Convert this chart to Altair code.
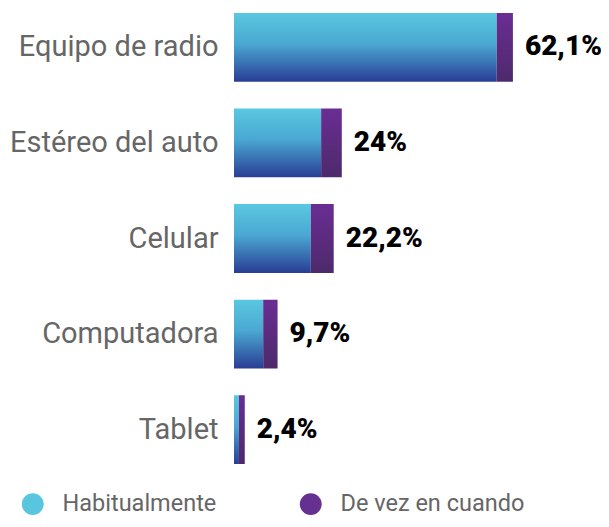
import altair as alt
import pandas as pd

categories = ["Equipo de radio", "Estéreo del auto", "Celular", "Computadora", "Tablet"]
habitual = [58.5, 19.4, 17.1, 6.5, 1.1]
ocasional = [3.6, 4.6, 5.1, 3.2, 1.3]
total_labels = ["62,1%", "24%", "22,2%", "9,7%", "2,4%"]
series = ["Habitualmente", "De vez en cuando"]
series_colors = ["#59c6df", "#65308f"]

df = pd.DataFrame({
    "cat": categories,
    "hab": habitual,
    "oca": ocasional,
    "label": total_labels,
})
df["total"] = df["hab"] + df["oca"]

leg = pd.DataFrame({"serie": series, "cat": [categories[0]] * 2, "v": [0, 0]})

y = alt.Y("cat:N", sort=categories, title=None,
          scale=alt.Scale(paddingInner=0.28, paddingOuter=0.052),
          axis=alt.Axis(domain=False, ticks=False, labelPadding=16, labelLimit=400,
                        labelFont="Roboto", labelFontSize=29, labelColor="#666666",
                        labelFontWeight=400))
xs = alt.Scale(domain=[0, 75.7])

grad_c = alt.Gradient(gradient="linear", x1=0, x2=0, y1=0, y2=1,
                      stops=[alt.GradientStop(offset=0, color="#5ac8e0"),
                             alt.GradientStop(offset=0.45, color="#4aa8d2"),
                             alt.GradientStop(offset=1, color="#293d94")])
grad_p = alt.Gradient(gradient="linear", x1=0, x2=0, y1=0, y2=1,
                      stops=[alt.GradientStop(offset=0, color="#6a2d93"),
                             alt.GradientStop(offset=1, color="#4d2a6b")])

base = alt.Chart(df)
bar_h = base.mark_bar(fill=grad_c).encode(
    y=y, x=alt.X("hab:Q", scale=xs, axis=None))
bar_o = base.mark_bar(fill=grad_p).encode(
    y=y, x=alt.X("hab:Q", scale=xs, axis=None), x2="total:Q")
txt = base.mark_text(align="left", baseline="middle", dx=12, font="Roboto",
                     fontWeight=900, fontSize=28, color="#000000").encode(
    y=y, x=alt.X("total:Q", scale=xs, axis=None), text="label:N")

legend_layer = alt.Chart(leg).mark_point(opacity=0, filled=True).encode(
    y=alt.Y("cat:N", sort=categories),
    x=alt.X("v:Q", scale=xs, axis=None),
    color=alt.Color("serie:N", sort=series, title=None,
                    scale=alt.Scale(domain=series, range=series_colors),
                    legend=alt.Legend(orient="none", legendX=-213, legendY=484,
                                      direction="horizontal", symbolType="circle",
                                      symbolSize=480, symbolOpacity=1,
                                      labelFont="Roboto", labelFontSize=23.5,
                                      labelColor="#666666", labelOffset=18,
                                      columnPadding=82, symbolStrokeWidth=0,
                                      labelLimit=400)))

chart = alt.layer(bar_h, bar_o, txt, legend_layer).properties(
    width=340, height=461,
    autosize=alt.AutoSizeParams(type="none"),
    padding={"left": 226, "top": 0, "right": 27, "bottom": 49},
).configure_view(stroke=None)

chart.save("out.html", embed_options={"renderer": "svg", "actions": False})
